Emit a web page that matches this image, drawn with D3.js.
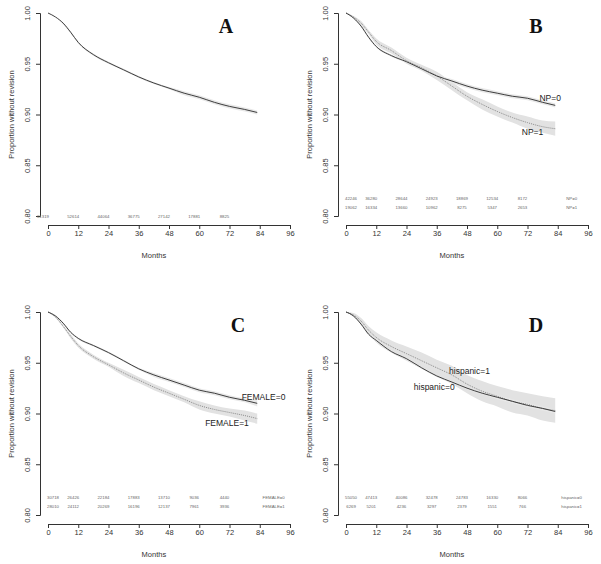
<!DOCTYPE html>
<html>
<head>
<meta charset="utf-8">
<script src="https://cdn.jsdelivr.net/npm/d3@7"></script>
<style>
  body { margin: 0; background: #fff; }
  svg { display: block; font-family: "Liberation Sans", Arial, sans-serif; }
  .tick text { font-size: 7.5px; }
</style>
</head>
<body>
<svg id="chart" width="601" height="564"></svg>
<script>
// survival estimates (months -> proportion)
const months = [0, 3, 6, 9, 12, 18, 24, 30, 36, 42, 48, 54, 60, 66, 72, 78, 83];

const allPts = [1.000, 0.996, 0.990, 0.981, 0.971, 0.959, 0.951, 0.944, 0.937, 0.931, 0.926, 0.921, 0.917, 0.912, 0.908, 0.905, 0.902];
const allCI  = [0, 0.000, 0.001, 0.001, 0.001, 0.001, 0.001, 0.001, 0.001, 0.001, 0.001, 0.002, 0.002, 0.002, 0.002, 0.002, 0.002];

const np0 = [1.000, 0.995, 0.987, 0.976, 0.967, 0.958, 0.952, 0.945, 0.938, 0.933, 0.928, 0.924, 0.921, 0.918, 0.916, 0.912, 0.909];
const np1 = [1.000, 0.996, 0.990, 0.981, 0.972, 0.963, 0.953, 0.946, 0.938, 0.928, 0.918, 0.910, 0.903, 0.897, 0.892, 0.888, 0.886];
const np0CI = [0, 0.001, 0.001, 0.001, 0.001, 0.001, 0.001, 0.001, 0.001, 0.002, 0.002, 0.002, 0.002, 0.002, 0.002, 0.002, 0.002];
const np1CI = [0, 0.001, 0.002, 0.002, 0.003, 0.003, 0.003, 0.003, 0.004, 0.004, 0.004, 0.005, 0.005, 0.005, 0.006, 0.006, 0.007];

const female0 = [1.000, 0.996, 0.989, 0.980, 0.974, 0.967, 0.960, 0.952, 0.944, 0.938, 0.933, 0.928, 0.923, 0.920, 0.916, 0.913, 0.910];
const female1 = [1.000, 0.995, 0.986, 0.976, 0.967, 0.956, 0.948, 0.940, 0.933, 0.926, 0.920, 0.914, 0.908, 0.904, 0.901, 0.898, 0.895];
const female0CI = [0, 0.001, 0.001, 0.001, 0.001, 0.001, 0.001, 0.001, 0.001, 0.002, 0.002, 0.002, 0.002, 0.002, 0.002, 0.002, 0.003];
const female1CI = [0, 0.001, 0.001, 0.002, 0.002, 0.002, 0.002, 0.003, 0.003, 0.003, 0.003, 0.003, 0.004, 0.004, 0.004, 0.005, 0.005];

const hisp0 = [1.000, 0.996, 0.988, 0.978, 0.972, 0.961, 0.954, 0.945, 0.937, 0.931, 0.925, 0.920, 0.916, 0.912, 0.908, 0.905, 0.902];
const hisp1 = [1.000, 0.997, 0.991, 0.982, 0.975, 0.966, 0.959, 0.952, 0.945, 0.938, 0.929, 0.922, 0.917, 0.912, 0.909, 0.905, 0.903];
const hisp0CI = [0, 0.000, 0.001, 0.001, 0.001, 0.001, 0.001, 0.001, 0.001, 0.001, 0.001, 0.001, 0.002, 0.002, 0.002, 0.002, 0.002];
const hisp1CI = [0, 0.002, 0.003, 0.004, 0.005, 0.006, 0.007, 0.008, 0.008, 0.009, 0.009, 0.010, 0.010, 0.011, 0.011, 0.012, 0.012];

// number at risk tables
const riskMonthsA = [-2, 10, 22, 34, 46, 58, 70];
const riskMonths = [2, 10, 22, 34, 46, 58, 70];
const riskAll = [61319, 52614, 44064, 36775, 27142, 17881, 8825];
const riskNP0 = [42246, 36280, 28644, 24923, 18869, 12534, 8172];
const riskNP1 = [19062, 16334, 13660, 10962, 8275, 5347, 2653];
const riskF0 = [30718, 26426, 22184, 17883, 13710, 9036, 4440];
const riskF1 = [28010, 24112, 20269, 16196, 12137, 7961, 3936];
const riskH0 = [55050, 47413, 40086, 32478, 24783, 16330, 8066];
const riskH1 = [6269, 5201, 4236, 3297, 2379, 1551, 766];

const xTicks = [0, 12, 24, 36, 48, 60, 72, 84, 96];
const yTicks = [0.80, 0.85, 0.90, 0.95, 1.00];

const panels = [
  { letter: "A", dx: 0, dy: 0, letterX: 226,
    curves: [{ vals: allPts, ci: allCI, dark: true }],
    risk: [{ months: riskMonthsA, vals: riskAll, name: null }],
    labels: [] },
  { letter: "B", dx: 298, dy: 0, letterX: 238,
    curves: [{ vals: np1, ci: np1CI, dark: false }, { vals: np0, ci: np0CI, dark: true }],
    risk: [{ months: riskMonths, vals: riskNP0, name: "NP=0" }, { months: riskMonths, vals: riskNP1, name: "NP=1" }],
    labels: [{ t: "NP=0", m: 81, v: 0.9165 }, { t: "NP=1", m: 74, v: 0.883 }] },
  { letter: "C", dx: 0, dy: 299, letterX: 238,
    curves: [{ vals: female1, ci: female1CI, dark: false }, { vals: female0, ci: female0CI, dark: true }],
    risk: [{ months: riskMonths, vals: riskF0, name: "FEMALE=0" }, { months: riskMonths, vals: riskF1, name: "FEMALE=1" }],
    labels: [{ t: "FEMALE=0", m: 85.5, v: 0.916 }, { t: "FEMALE=1", m: 71, v: 0.891 }] },
  { letter: "D", dx: 298, dy: 299, letterX: 238,
    curves: [{ vals: hisp1, ci: hisp1CI, dark: false }, { vals: hisp0, ci: hisp0CI, dark: true }],
    risk: [{ months: riskMonths, vals: riskH0, name: "hispanic=0" }, { months: riskMonths, vals: riskH1, name: "hispanic=1" }],
    labels: [{ t: "hispanic=1", m: 49, v: 0.942 }, { t: "hispanic=0", m: 35, v: 0.926 }] }
];

const svg = d3.select("#chart");
const x = d3.scaleLinear().domain([0, 96]).range([48, 290]);
const y = d3.scaleLinear().domain([0.8, 1.0]).range([216, 13]);

function drawPanel(p) {
  const g = svg.append("g").attr("transform", "translate(" + p.dx + "," + p.dy + ")");

  // bands first, then lines
  p.curves.forEach(c => {
    const rows = months.map((m, i) => ({ m: m, v: c.vals[i], e: c.ci[i] }));
    g.append("path")
      .datum(rows)
      .attr("fill", c.dark ? "#e8e8e8" : "#e2e2e2")
      .attr("d", d3.area().x(d => x(d.m)).y0(d => y(d.v - d.e)).y1(d => y(d.v + d.e)).curve(d3.curveMonotoneX));
  });
  p.curves.forEach(c => {
    const rows = months.map((m, i) => ({ m: m, v: c.vals[i] }));
    g.append("path")
      .datum(rows)
      .attr("fill", "none")
      .attr("stroke", c.dark ? "#2a2a2a" : "#8a8a8a")
      .attr("stroke-width", c.dark ? 0.9 : 1)
      .attr("stroke-dasharray", c.dark ? null : "1,1")
      .attr("d", d3.line().x(d => x(d.m)).y(d => y(d.v)).curve(d3.curveMonotoneX));
  });

  // axes
  const xa = g.append("g").attr("transform", "translate(0,225)")
    .call(d3.axisBottom(x).tickValues(xTicks).tickSize(4).tickPadding(2));
  const ya = g.append("g").attr("transform", "translate(40,0)")
    .call(d3.axisLeft(y).tickValues(yTicks).tickSize(4).tickFormat(d3.format(".2f")));
  [xa, ya].forEach(a => {
    a.select(".domain").attr("stroke", "#333");
    a.selectAll(".tick line").attr("stroke", "#333");
    a.selectAll(".tick text").attr("fill", "#333");
  });
  ya.selectAll(".tick text")
    .attr("x", null).attr("dy", null)
    .attr("text-anchor", "middle")
    .attr("transform", "translate(-10,0) rotate(-90)");

  g.append("text").attr("x", x(42)).attr("y", 258)
    .attr("text-anchor", "middle").attr("font-size", 7.5).attr("fill", "#333").text("Months");
  g.append("text").attr("transform", "translate(14," + y(0.9) + ") rotate(-90)")
    .attr("text-anchor", "middle").attr("font-size", 7.5).attr("fill", "#333").text("Proportion without revision");

  // number at risk
  p.risk.forEach((r, k) => {
    const yy = p.risk.length === 1 ? 218 : 200 + k * 9;
    g.selectAll(null).data(r.vals).enter().append("text")
      .attr("x", (d, i) => x(r.months[i])).attr("y", yy)
      .attr("text-anchor", "middle").attr("font-size", 4.3).attr("fill", "#666")
      .text(d => d);
    if (r.name) {
      g.append("text").attr("x", x(89.5)).attr("y", yy)
        .attr("text-anchor", "middle").attr("font-size", 4.3).attr("fill", "#666").text(r.name);
    }
  });

  // curve labels
  p.labels.forEach(l => {
    g.append("text").attr("x", x(l.m)).attr("y", y(l.v) + 3)
      .attr("text-anchor", "middle").attr("font-size", 8.5).attr("fill", "#222").text(l.t);
  });

  g.append("text").attr("x", p.letterX).attr("y", 33)
    .attr("text-anchor", "middle").attr("font-family", "'Liberation Serif', 'DejaVu Serif', serif")
    .attr("font-weight", "bold").attr("font-size", 20).attr("fill", "#111").text(p.letter);
}

panels.forEach(drawPanel);
</script>
</body>
</html>
